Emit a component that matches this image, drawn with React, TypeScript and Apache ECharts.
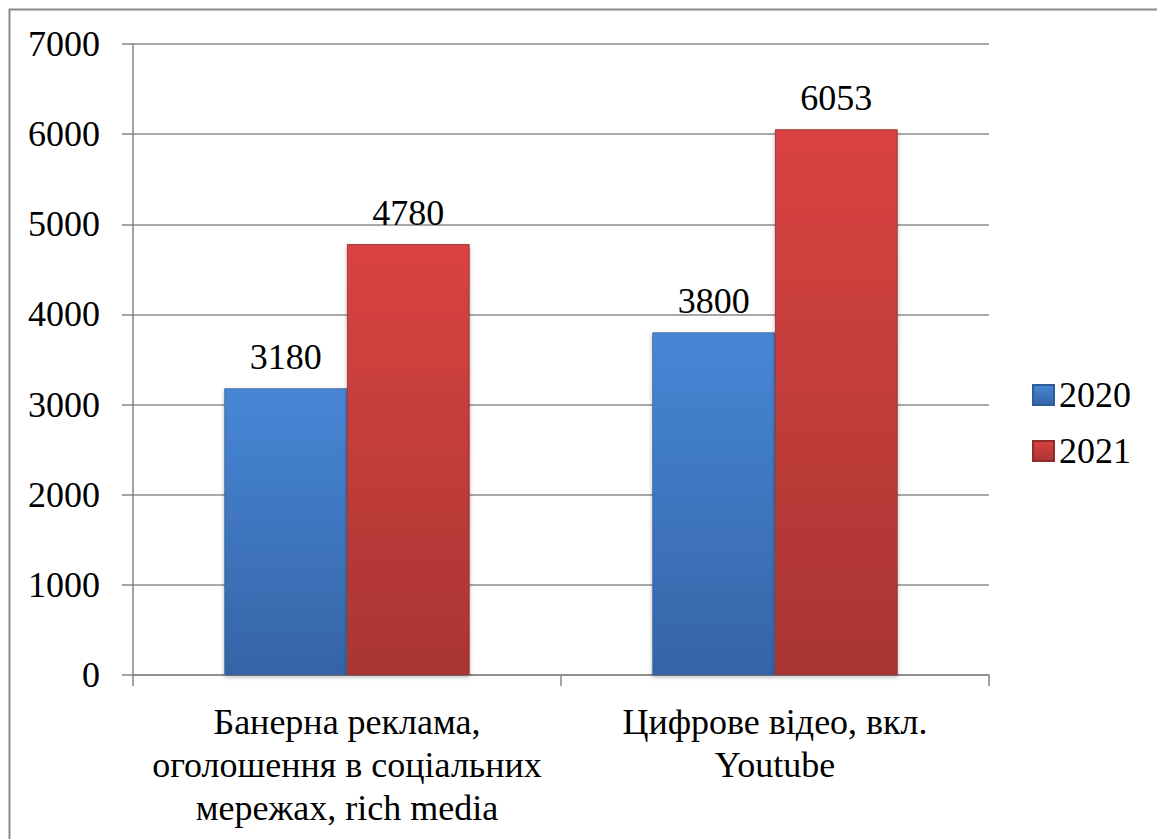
import React, { useEffect, useRef } from "react";
import * as echarts from "echarts";

const categories = [
  "Банерна реклама,\nоголошення в соціальних\nмережах, rich media",
  "Цифрове відео, вкл.\nYoutube",
];
const values2020 = [3180, 3800];
const values2021 = [4780, 6053];
const seriesNames = ["2020", "2021"];
const yTicks = { min: 0, max: 7000, interval: 1000 };

const FONT = "Liberation Serif";

function grad(top: string, bottom: string) {
  return new echarts.graphic.LinearGradient(0, 0, 0, 1, [
    { offset: 0, color: top },
    { offset: 1, color: bottom },
  ]);
}

export default function App() {
  const ref = useRef<HTMLDivElement>(null);
  useEffect(() => {
    if (!ref.current) return;
    const chart = echarts.init(ref.current, undefined, { renderer: "svg" });
    const labelCfg = {
      show: true,
      position: "top" as const,
      distance: 13,
      color: "#000",
      fontFamily: FONT,
      fontSize: 36,
    };
    chart.setOption({
      animation: false,
      backgroundColor: "#fff",
      textStyle: { fontFamily: FONT },
      graphic: [
        {
          type: "rect",
          shape: { x: 9.5, y: 9.5, width: 1200, height: 900 },
          style: { fill: "none", stroke: "#8a8a8a", lineWidth: 2 },
          z: 100,
          silent: true,
        },
      ],
      grid: { left: 133, right: 168, top: 44, bottom: 164 },
      legend: {
        orient: "vertical",
        left: 1032,
        top: 377,
        padding: 0,
        itemWidth: 21,
        itemHeight: 20,
        itemGap: 20,
        icon: "rect",
        textStyle: { fontFamily: FONT, fontSize: 36, color: "#000" },
        data: seriesNames,
      },
      xAxis: {
        type: "category",
        data: categories,
        axisLine: { lineStyle: { color: "#868686", width: 1.5 } },
        axisTick: { show: true, length: 11, lineStyle: { color: "#868686", width: 1.5 } },
        axisLabel: {
          margin: 25,
          color: "#000",
          fontFamily: FONT,
          fontSize: 36,
          lineHeight: 43,
          interval: 0,
        },
      },
      yAxis: {
        type: "value",
        min: yTicks.min,
        max: yTicks.max,
        interval: yTicks.interval,
        axisLine: { show: true, lineStyle: { color: "#868686", width: 1.5 } },
        axisTick: { show: true, length: 11, lineStyle: { color: "#868686", width: 1.5 } },
        splitLine: { show: true, lineStyle: { color: "#8c8c8c", width: 1.5 } },
        axisLabel: {
          margin: 33,
          color: "#000",
          fontFamily: FONT,
          fontSize: 36,
          formatter: (v: number) => String(v),
        },
      },
      series: [
        {
          name: seriesNames[0],
          type: "bar",
          data: values2020,
          barGap: "0%",
          barCategoryGap: "42.7%",
          itemStyle: {
            color: grad("#4787d6", "#3564a6"),
            borderColor: "#2f5b96",
            borderWidth: 0.8,
            shadowColor: "rgba(0,0,0,0.3)",
            shadowBlur: 4,
            shadowOffsetY: 2,
          },
          label: labelCfg,
        },
        {
          name: seriesNames[1],
          type: "bar",
          data: values2021,
          barGap: "0%",
          barCategoryGap: "42.7%",
          itemStyle: {
            color: grad("#d94341", "#a93533"),
            borderColor: "#8e2c2a",
            borderWidth: 0.8,
            shadowColor: "rgba(0,0,0,0.3)",
            shadowBlur: 4,
            shadowOffsetY: 2,
          },
          label: labelCfg,
        },
      ],
    });
    return () => chart.dispose();
  }, []);
  return (
    <div
      ref={ref}
      style={{ position: "fixed", left: 0, top: 0, width: 1157, height: 839 }}
    />
  );
}
